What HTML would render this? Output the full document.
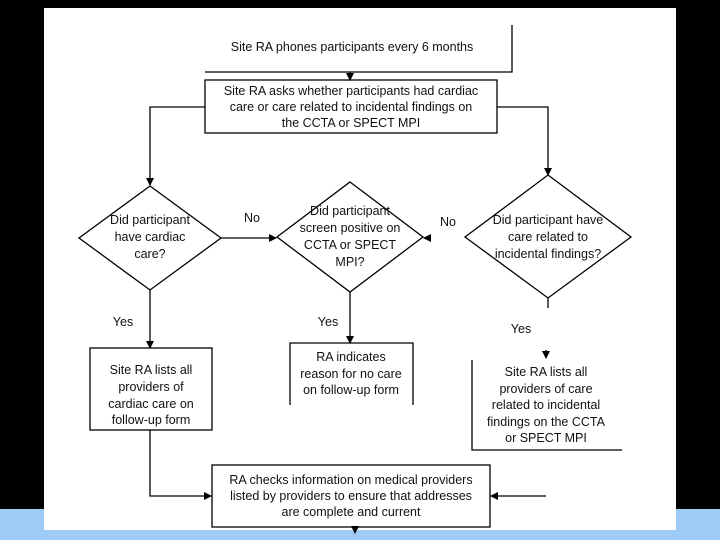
<!DOCTYPE html>
<html><head><meta charset="utf-8"><style>
html,body{margin:0;padding:0;background:#000;}
svg{display:block}
text{font-family:"Liberation Sans",Arial,sans-serif;font-size:12.5px;fill:#111;text-anchor:middle}
</style></head><body>
<svg width="720" height="540" viewBox="0 0 720 540" xmlns="http://www.w3.org/2000/svg">
<rect x="0" y="0" width="720" height="540" fill="#000"/>
<rect x="0" y="509" width="720" height="31" fill="#9fcbf7"/>
<rect x="44" y="8" width="632" height="522" fill="#fff"/>
<defs><marker id="a" markerWidth="8" markerHeight="8" refX="7" refY="4" orient="auto" markerUnits="userSpaceOnUse"><path d="M0,0 L8,4 L0,8 z" fill="#000"/></marker></defs>
<g stroke="#000" stroke-width="1.3" fill="none">
<polyline points="512,25 512,72 205,72"/>
<line x1="350" y1="72" x2="350" y2="80" marker-end="url(#a)"/>
<rect x="205" y="80" width="292" height="53"/>
<polyline points="205,107 150,107 150,185" marker-end="url(#a)"/>
<polyline points="497,107 548,107 548,175" marker-end="url(#a)"/>
<polygon points="150,186 221,238 150,290 79,238"/>
<polygon points="350,182 423,237 350,292 277,237"/>
<polygon points="548,175 631,237 548,298 465,237"/>
<line x1="221" y1="238" x2="276" y2="238" marker-end="url(#a)"/>
<line x1="428" y1="238" x2="424" y2="238" marker-end="url(#a)"/>
<line x1="150" y1="290" x2="150" y2="348" marker-end="url(#a)"/>
<line x1="350" y1="292" x2="350" y2="343" marker-end="url(#a)"/>
<line x1="548" y1="298" x2="548" y2="308"/>
<line x1="546" y1="350" x2="546" y2="358" marker-end="url(#a)"/>
<rect x="90" y="348" width="122" height="82"/>
<polyline points="290,405 290,343 413,343 413,405"/>
<polyline points="472,360 472,450 622,450"/>
<polyline points="150,430 150,496 211,496" marker-end="url(#a)"/>
<line x1="546" y1="496" x2="491" y2="496" marker-end="url(#a)"/>
<rect x="212" y="465" width="278" height="62"/>
<line x1="355" y1="527" x2="355" y2="533" marker-end="url(#a)"/>
</g>
<text x="352" y="51">Site RA phones participants every 6 months</text>
<text x="351" y="95">Site RA asks whether participants had cardiac</text>
<text x="351" y="111">care or care related to incidental findings on</text>
<text x="351" y="127">the CCTA or SPECT MPI</text>
<text x="150" y="224">Did participant</text>
<text x="150" y="241">have cardiac</text>
<text x="150" y="258">care?</text>
<text x="350" y="215">Did participant</text>
<text x="350" y="232">screen positive on</text>
<text x="350" y="249">CCTA or SPECT</text>
<text x="350" y="266">MPI?</text>
<text x="548" y="224">Did participant have</text>
<text x="548" y="241">care related to</text>
<text x="548" y="258">incidental findings?</text>
<text x="252" y="222">No</text>
<text x="448" y="226">No</text>
<text x="123" y="326">Yes</text>
<text x="328" y="326">Yes</text>
<text x="521" y="333">Yes</text>
<text x="151" y="374">Site RA lists all</text>
<text x="151" y="391">providers of</text>
<text x="151" y="408">cardiac care on</text>
<text x="151" y="424">follow-up form</text>
<text x="351" y="361">RA indicates</text>
<text x="351" y="378">reason for no care</text>
<text x="351" y="394">on follow-up form</text>
<text x="546" y="376">Site RA lists all</text>
<text x="546" y="393">providers of care</text>
<text x="546" y="409">related to incidental</text>
<text x="546" y="426">findings on the CCTA</text>
<text x="546" y="442">or SPECT MPI</text>
<text x="351" y="484">RA checks information on medical providers</text>
<text x="351" y="500">listed by providers to ensure that addresses</text>
<text x="351" y="516">are complete and current</text>
</svg>
</body></html>
